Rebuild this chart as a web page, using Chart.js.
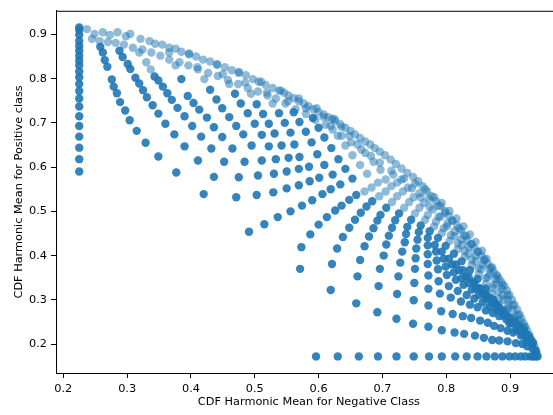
<!DOCTYPE html>
<html>
<head>
<meta charset="utf-8">
<script src="https://cdn.jsdelivr.net/npm/chart.js@4.4.1/dist/chart.umd.min.js"></script>
<style>
  html, body { margin: 0; padding: 0; background: #fff; overflow: hidden; }
  #wrap { width: 566px; height: 415px; }
</style>
</head>
<body>
<div id="wrap"><canvas id="myChart" width="566" height="415"></canvas></div>
<script>
var ctx = document.getElementById('myChart');

// tick labels
var xTicks = [0.2, 0.3, 0.4, 0.5, 0.6, 0.7, 0.8, 0.9];
var yTicks = [0.2, 0.3, 0.4, 0.5, 0.6, 0.7, 0.8, 0.9];

// left edge column (negative class fixed)
var leftColumnNeg = 0.225;
var leftColumnPos = [0.590, 0.618, 0.644, 0.669, 0.693, 0.715, 0.737, 0.755, 0.772, 0.788, 0.803, 0.816, 0.830, 0.841, 0.852, 0.863, 0.874, 0.885, 0.899, 0.910, 0.916];

// bottom row (positive class fixed)
var bottomRowPos = 0.172;
var bottomRowNeg = [0.596, 0.630, 0.663, 0.693, 0.722, 0.749, 0.773, 0.793, 0.814, 0.832, 0.849, 0.863, 0.876, 0.888, 0.899, 0.908, 0.917, 0.924, 0.932, 0.936, 0.940, 0.943];

// upper-left fan, [neg, pos]
var fanH1 = [[0.258,0.872],[0.262,0.859],[0.265,0.842],[0.269,0.827],[0.276,0.798],[0.279,0.782],[0.284,0.767],[0.289,0.747],[0.297,0.728],[0.304,0.706],[0.315,0.682],[0.329,0.655],[0.349,0.624],[0.377,0.588],[0.420,0.539],[0.491,0.454]];
var fanH2 = [[0.288,0.863],[0.293,0.849],[0.301,0.833],[0.305,0.822],[0.313,0.802],[0.319,0.789],[0.325,0.774],[0.331,0.758],[0.340,0.740],[0.349,0.721],[0.360,0.698],[0.374,0.674],[0.390,0.647],[0.411,0.615],[0.436,0.578],[0.471,0.532],[0.515,0.471]];
var fanH3 = [[0.343,0.805],[0.349,0.796],[0.356,0.782],[0.363,0.767],[0.370,0.752],[0.379,0.734],[0.390,0.715],[0.402,0.693],[0.416,0.669],[0.432,0.642],[0.452,0.612],[0.475,0.577],[0.503,0.537],[0.536,0.487]];
var fanH4 = [[0.385,0.799],[0.395,0.761],[0.404,0.745],[0.413,0.730],[0.425,0.712],[0.436,0.690],[0.449,0.668],[0.465,0.642],[0.484,0.612],[0.505,0.581],[0.529,0.543],[0.556,0.500]];
var fanH5 = [[0.430,0.775],[0.440,0.753],[0.449,0.733],[0.460,0.713],[0.471,0.693],[0.482,0.674],[0.495,0.649],[0.511,0.615],[0.530,0.585],[0.550,0.552],[0.574,0.513]];
var fanH6 = [[0.469,0.766],[0.478,0.744],[0.489,0.722],[0.500,0.698],[0.511,0.673],[0.522,0.647],[0.533,0.618],[0.550,0.590],[0.569,0.559],[0.590,0.525]];
var fanH7 = [[0.503,0.742],[0.513,0.720],[0.522,0.698],[0.531,0.676],[0.542,0.649],[0.553,0.621],[0.569,0.596],[0.586,0.568],[0.606,0.539]];
var fanH8 = [[0.538,0.722],[0.547,0.700],[0.556,0.678],[0.562,0.651],[0.570,0.623],[0.585,0.601],[0.601,0.576],[0.619,0.550]];
var fanH9 = [[0.561,0.724],[0.570,0.702],[0.580,0.680],[0.589,0.656],[0.598,0.629],[0.609,0.605],[0.622,0.583],[0.634,0.561]];
var fanH10 = [[0.591,0.711],[0.600,0.689],[0.609,0.667],[0.620,0.643],[0.631,0.618],[0.642,0.596],[0.653,0.574]];
var fanH11 = [[0.597,0.733],[0.608,0.713],[0.619,0.693],[0.630,0.671],[0.642,0.649],[0.653,0.627],[0.665,0.605],[0.676,0.585]];
var fanH12 = [[0.625,0.709],[0.636,0.691],[0.648,0.671],[0.661,0.651],[0.673,0.632],[0.686,0.612],[0.697,0.594]];
var upperHeads = [[0.319,0.859],[0.330,0.837],[0.337,0.821],[0.366,0.859],[0.376,0.830],[0.397,0.855],[0.410,0.826],[0.421,0.799],[0.441,0.832],[0.450,0.810],[0.460,0.788],[0.475,0.815],[0.485,0.791],[0.494,0.766],[0.510,0.793],[0.519,0.768],[0.528,0.744],[0.541,0.773],[0.552,0.749],[0.569,0.755],[0.580,0.733]];

// lower-right fan, [neg, pos]
var fanF1 = [[0.571,0.370],[0.619,0.322],[0.659,0.292],[0.692,0.272],[0.722,0.257],[0.748,0.246],[0.772,0.239],[0.793,0.231],[0.813,0.226],[0.828,0.223],[0.845,0.219],[0.859,0.214],[0.872,0.209],[0.883,0.208],[0.896,0.206],[0.909,0.202],[0.919,0.200],[0.927,0.195],[0.935,0.190],[0.940,0.182]];
var fanF2 = [[0.573,0.419],[0.621,0.381],[0.661,0.353],[0.694,0.331],[0.723,0.313],[0.749,0.299],[0.772,0.287],[0.792,0.274],[0.810,0.268],[0.826,0.263],[0.839,0.259],[0.853,0.253],[0.865,0.248],[0.875,0.241],[0.885,0.236],[0.896,0.230],[0.905,0.226],[0.917,0.219],[0.927,0.211],[0.935,0.200],[0.940,0.186]];
var fanF3 = [[0.587,0.448],[0.629,0.416],[0.665,0.390],[0.696,0.370],[0.725,0.353],[0.750,0.338],[0.772,0.325],[0.790,0.314],[0.807,0.305],[0.823,0.296],[0.837,0.289],[0.849,0.283],[0.862,0.276],[0.873,0.270],[0.883,0.263],[0.894,0.256],[0.904,0.250],[0.913,0.241],[0.922,0.230],[0.930,0.217],[0.936,0.203]];
var fanF4 = [[0.600,0.470],[0.638,0.442],[0.672,0.421],[0.702,0.400],[0.728,0.384],[0.751,0.370],[0.772,0.355],[0.788,0.342],[0.804,0.331],[0.818,0.320],[0.832,0.311],[0.844,0.303],[0.857,0.294],[0.868,0.285],[0.879,0.276],[0.889,0.267],[0.899,0.258],[0.908,0.250],[0.918,0.236],[0.925,0.223],[0.933,0.208]];
var fanF5 = [[0.613,0.487],[0.648,0.463],[0.679,0.443],[0.706,0.425],[0.731,0.409],[0.752,0.394],[0.771,0.381],[0.787,0.369],[0.801,0.356],[0.815,0.345],[0.827,0.334],[0.840,0.323],[0.851,0.311],[0.862,0.303],[0.872,0.292],[0.882,0.281],[0.891,0.270],[0.900,0.258],[0.910,0.245],[0.919,0.230],[0.927,0.214]];
var fanF6 = [[0.626,0.502],[0.657,0.481],[0.686,0.462],[0.710,0.445],[0.735,0.430],[0.753,0.416],[0.771,0.403],[0.785,0.389],[0.799,0.375],[0.812,0.362],[0.824,0.349],[0.835,0.338],[0.846,0.325],[0.857,0.314],[0.866,0.303],[0.876,0.292],[0.885,0.278],[0.894,0.265],[0.904,0.252],[0.913,0.236],[0.922,0.219]];
var fanF7 = [[0.636,0.513],[0.666,0.497],[0.692,0.479],[0.715,0.463],[0.737,0.449],[0.755,0.436],[0.771,0.423],[0.784,0.409],[0.796,0.393],[0.809,0.380],[0.820,0.367],[0.831,0.353],[0.842,0.340],[0.851,0.327],[0.860,0.316],[0.870,0.303],[0.879,0.289],[0.888,0.276],[0.897,0.261],[0.907,0.245],[0.916,0.228]];
var fanF8 = [[0.648,0.526],[0.675,0.511],[0.697,0.492],[0.720,0.480],[0.739,0.465],[0.757,0.453],[0.771,0.440],[0.782,0.424],[0.793,0.409],[0.804,0.393],[0.815,0.380],[0.826,0.367],[0.835,0.351],[0.844,0.338],[0.854,0.325],[0.863,0.311],[0.872,0.298],[0.882,0.283],[0.891,0.267],[0.900,0.250],[0.910,0.232]];
var fanF9 = [[0.659,0.537],[0.684,0.523],[0.706,0.508],[0.726,0.495],[0.745,0.481],[0.760,0.468],[0.774,0.455],[0.787,0.440],[0.799,0.422],[0.812,0.404],[0.824,0.387],[0.837,0.367],[0.849,0.347],[0.862,0.325],[0.874,0.300],[0.886,0.274],[0.899,0.247]];
var fanF10 = [[0.672,0.545],[0.695,0.534],[0.715,0.521],[0.734,0.508],[0.751,0.495],[0.767,0.481],[0.781,0.466],[0.793,0.451],[0.805,0.433],[0.818,0.415],[0.829,0.398],[0.840,0.378],[0.851,0.358],[0.862,0.336],[0.872,0.314],[0.883,0.289],[0.894,0.265],[0.905,0.239]];
var fanF11 = [[0.683,0.554],[0.705,0.545],[0.723,0.534],[0.742,0.521],[0.758,0.508],[0.771,0.492],[0.784,0.477],[0.796,0.462],[0.807,0.446],[0.818,0.428],[0.829,0.411],[0.840,0.391],[0.851,0.371],[0.862,0.349],[0.872,0.327],[0.883,0.303],[0.894,0.276],[0.905,0.250]];
var fanF12 = [[0.693,0.565],[0.714,0.557],[0.732,0.545],[0.749,0.532],[0.765,0.519],[0.779,0.504],[0.791,0.488],[0.802,0.473],[0.813,0.455],[0.824,0.437],[0.835,0.420],[0.846,0.400],[0.857,0.380],[0.868,0.358],[0.879,0.336],[0.888,0.311],[0.897,0.287],[0.907,0.261],[0.916,0.234]];
var fanF13 = [[0.705,0.572],[0.723,0.565],[0.740,0.554],[0.758,0.541],[0.773,0.528],[0.787,0.512],[0.798,0.497],[0.809,0.479],[0.820,0.462],[0.831,0.444],[0.840,0.426],[0.849,0.409],[0.859,0.389],[0.868,0.369],[0.877,0.347],[0.887,0.325],[0.896,0.300],[0.905,0.276],[0.915,0.252]];
var fanF14 = [[0.717,0.583],[0.734,0.574],[0.751,0.563],[0.767,0.550],[0.781,0.532],[0.793,0.519],[0.805,0.501],[0.816,0.484],[0.827,0.466],[0.837,0.448],[0.846,0.431],[0.856,0.411],[0.863,0.393],[0.872,0.373],[0.880,0.353],[0.888,0.334],[0.896,0.311],[0.904,0.289],[0.913,0.265],[0.922,0.239]];

// crowded band along the outer edge, [neg, pos]
var arcOuter = [[0.538,0.773],[0.553,0.762],[0.569,0.749],[0.584,0.738],[0.600,0.724],[0.615,0.713],[0.626,0.704],[0.642,0.689],[0.657,0.674],[0.673,0.658],[0.688,0.643],[0.704,0.627],[0.721,0.607],[0.739,0.587],[0.756,0.568],[0.770,0.545],[0.784,0.523],[0.798,0.501],[0.810,0.479],[0.823,0.457],[0.833,0.435],[0.844,0.417],[0.855,0.400],[0.865,0.382],[0.874,0.364],[0.883,0.347],[0.891,0.331],[0.899,0.311],[0.907,0.289],[0.915,0.267],[0.921,0.247],[0.927,0.230],[0.933,0.210],[0.938,0.195],[0.942,0.179]];
var arcEdge = [[0.546,0.768],[0.561,0.756],[0.577,0.744],[0.592,0.731],[0.608,0.719],[0.621,0.709],[0.634,0.697],[0.650,0.682],[0.665,0.666],[0.681,0.651],[0.696,0.635],[0.713,0.617],[0.730,0.597],[0.748,0.578],[0.763,0.557],[0.777,0.534],[0.791,0.512],[0.804,0.490],[0.817,0.468],[0.828,0.446],[0.839,0.426],[0.850,0.409],[0.860,0.391],[0.870,0.373],[0.879,0.356],[0.887,0.339],[0.895,0.321],[0.903,0.300],[0.911,0.278],[0.918,0.257],[0.924,0.239],[0.930,0.220]];
var arcInner = [[0.533,0.755],[0.548,0.744],[0.564,0.731],[0.580,0.720],[0.595,0.707],[0.611,0.696],[0.622,0.685],[0.636,0.671],[0.651,0.656],[0.667,0.640],[0.682,0.625],[0.696,0.610],[0.714,0.592],[0.730,0.572],[0.746,0.552],[0.760,0.532],[0.774,0.510],[0.788,0.488],[0.801,0.466],[0.813,0.444],[0.824,0.424],[0.835,0.404],[0.846,0.387],[0.855,0.369],[0.865,0.351],[0.874,0.334],[0.882,0.318],[0.890,0.300],[0.897,0.281],[0.905,0.258],[0.913,0.239],[0.919,0.221],[0.925,0.203]];
var topOuter = [[0.237,0.912],[0.249,0.901],[0.262,0.905],[0.273,0.899],[0.285,0.905],[0.298,0.896],[0.305,0.901],[0.321,0.890],[0.335,0.885],[0.344,0.879],[0.355,0.877],[0.366,0.870],[0.376,0.868],[0.385,0.861],[0.397,0.857],[0.408,0.850],[0.419,0.843],[0.430,0.839],[0.441,0.832],[0.453,0.826],[0.464,0.819],[0.475,0.813],[0.486,0.808],[0.497,0.799],[0.506,0.793],[0.517,0.786],[0.528,0.779]];
var topInner = [[0.245,0.890],[0.257,0.885],[0.270,0.883],[0.282,0.881],[0.295,0.877],[0.309,0.870],[0.324,0.866],[0.338,0.859],[0.352,0.852],[0.366,0.843],[0.382,0.837],[0.396,0.830],[0.411,0.821],[0.427,0.813],[0.442,0.806],[0.458,0.797],[0.474,0.788],[0.489,0.779],[0.505,0.771],[0.520,0.762]];

// groups: repeated (dense) points vs single points
var denseGroups = [fanH1, fanH2, fanH3, fanH4, fanH5, fanH6, fanH7, fanH8, fanH9, fanH10, fanF1, fanF2, fanF3, fanF4, fanF5, fanF6, fanF7, fanF8, fanF9];
var sparseGroups = [fanH11, fanH12, upperHeads, fanF10, fanF11, fanF12, fanF13, fanF14, arcOuter, arcEdge, arcInner, topOuter, topInner];

var densePts = [];
leftColumnPos.forEach(function(p){ densePts.push({x: leftColumnNeg, y: p}); });
bottomRowNeg.forEach(function(n){ densePts.push({x: n, y: bottomRowPos}); });
denseGroups.forEach(function(g){ g.forEach(function(p){ densePts.push({x: p[0], y: p[1]}); }); });

var sparsePts = [];
sparseGroups.forEach(function(g){ g.forEach(function(p){ sparsePts.push({x: p[0], y: p[1]}); }); });

var font = {family: 'DejaVu Sans', size: 11.3};

// top spine like matplotlib
var topSpine = {
  id: 'topSpine',
  afterDatasetsDraw: function(chart) {
    var a = chart.chartArea, c = chart.ctx;
    c.save();
    c.strokeStyle = '#000';
    c.lineWidth = 1;
    c.beginPath();
    c.moveTo(a.left, a.top + 0.5);
    c.lineTo(a.right, a.top + 0.5);
    c.stroke();
    c.restore();
  }
};

var myChart = new Chart(ctx, {
  type: 'scatter',
  data: {
    datasets: [{
      data: sparsePts,
      backgroundColor: 'rgba(31,119,180,0.5)',
      borderWidth: 0,
      pointRadius: 4.2,
      pointHoverRadius: 4.2
    }, {
      data: densePts,
      backgroundColor: 'rgba(31,119,180,0.9)',
      borderWidth: 0,
      pointRadius: 4.2,
      pointHoverRadius: 4.2
    }]
  },
  options: {
    responsive: false,
    animation: false,
    layout: { padding: { top: 3, right: 2, left: 0, bottom: 0 } },
    plugins: { legend: { display: false }, tooltip: { enabled: false } },
    scales: {
      x: {
        type: 'linear',
        min: 0.1886,
        max: 0.981,
        afterFit: function(s){ s.height = 42; },
        afterBuildTicks: function(s){ s.ticks = xTicks.map(function(v){ return {value: v}; }); },
        ticks: { callback: function(v){ return v.toFixed(1); }, font: font, color: '#000', padding: 4, maxRotation: 0 },
        grid: { drawOnChartArea: false, drawTicks: true, tickLength: 5, tickColor: '#000' },
        border: { display: true, color: '#000', width: 1 },
        title: { display: true, text: 'CDF Harmonic Mean for Negative Class', font: font, color: '#000', padding: { top: 0, bottom: 6 } }
      },
      y: {
        type: 'linear',
        min: 0.1345,
        max: 0.9535,
        afterFit: function(s){ s.width = 56; },
        afterBuildTicks: function(s){ s.ticks = yTicks.map(function(v){ return {value: v}; }); },
        ticks: { callback: function(v){ return v.toFixed(1); }, font: font, color: '#000', padding: 4 },
        grid: { drawOnChartArea: false, drawTicks: true, tickLength: 5, tickColor: '#000' },
        border: { display: true, color: '#000', width: 1 },
        title: { display: true, text: 'CDF Harmonic Mean for Positive class', font: font, color: '#000', padding: { top: 12, bottom: 0 } }
      }
    }
  },
  plugins: [topSpine]
});
</script>
</body>
</html>
